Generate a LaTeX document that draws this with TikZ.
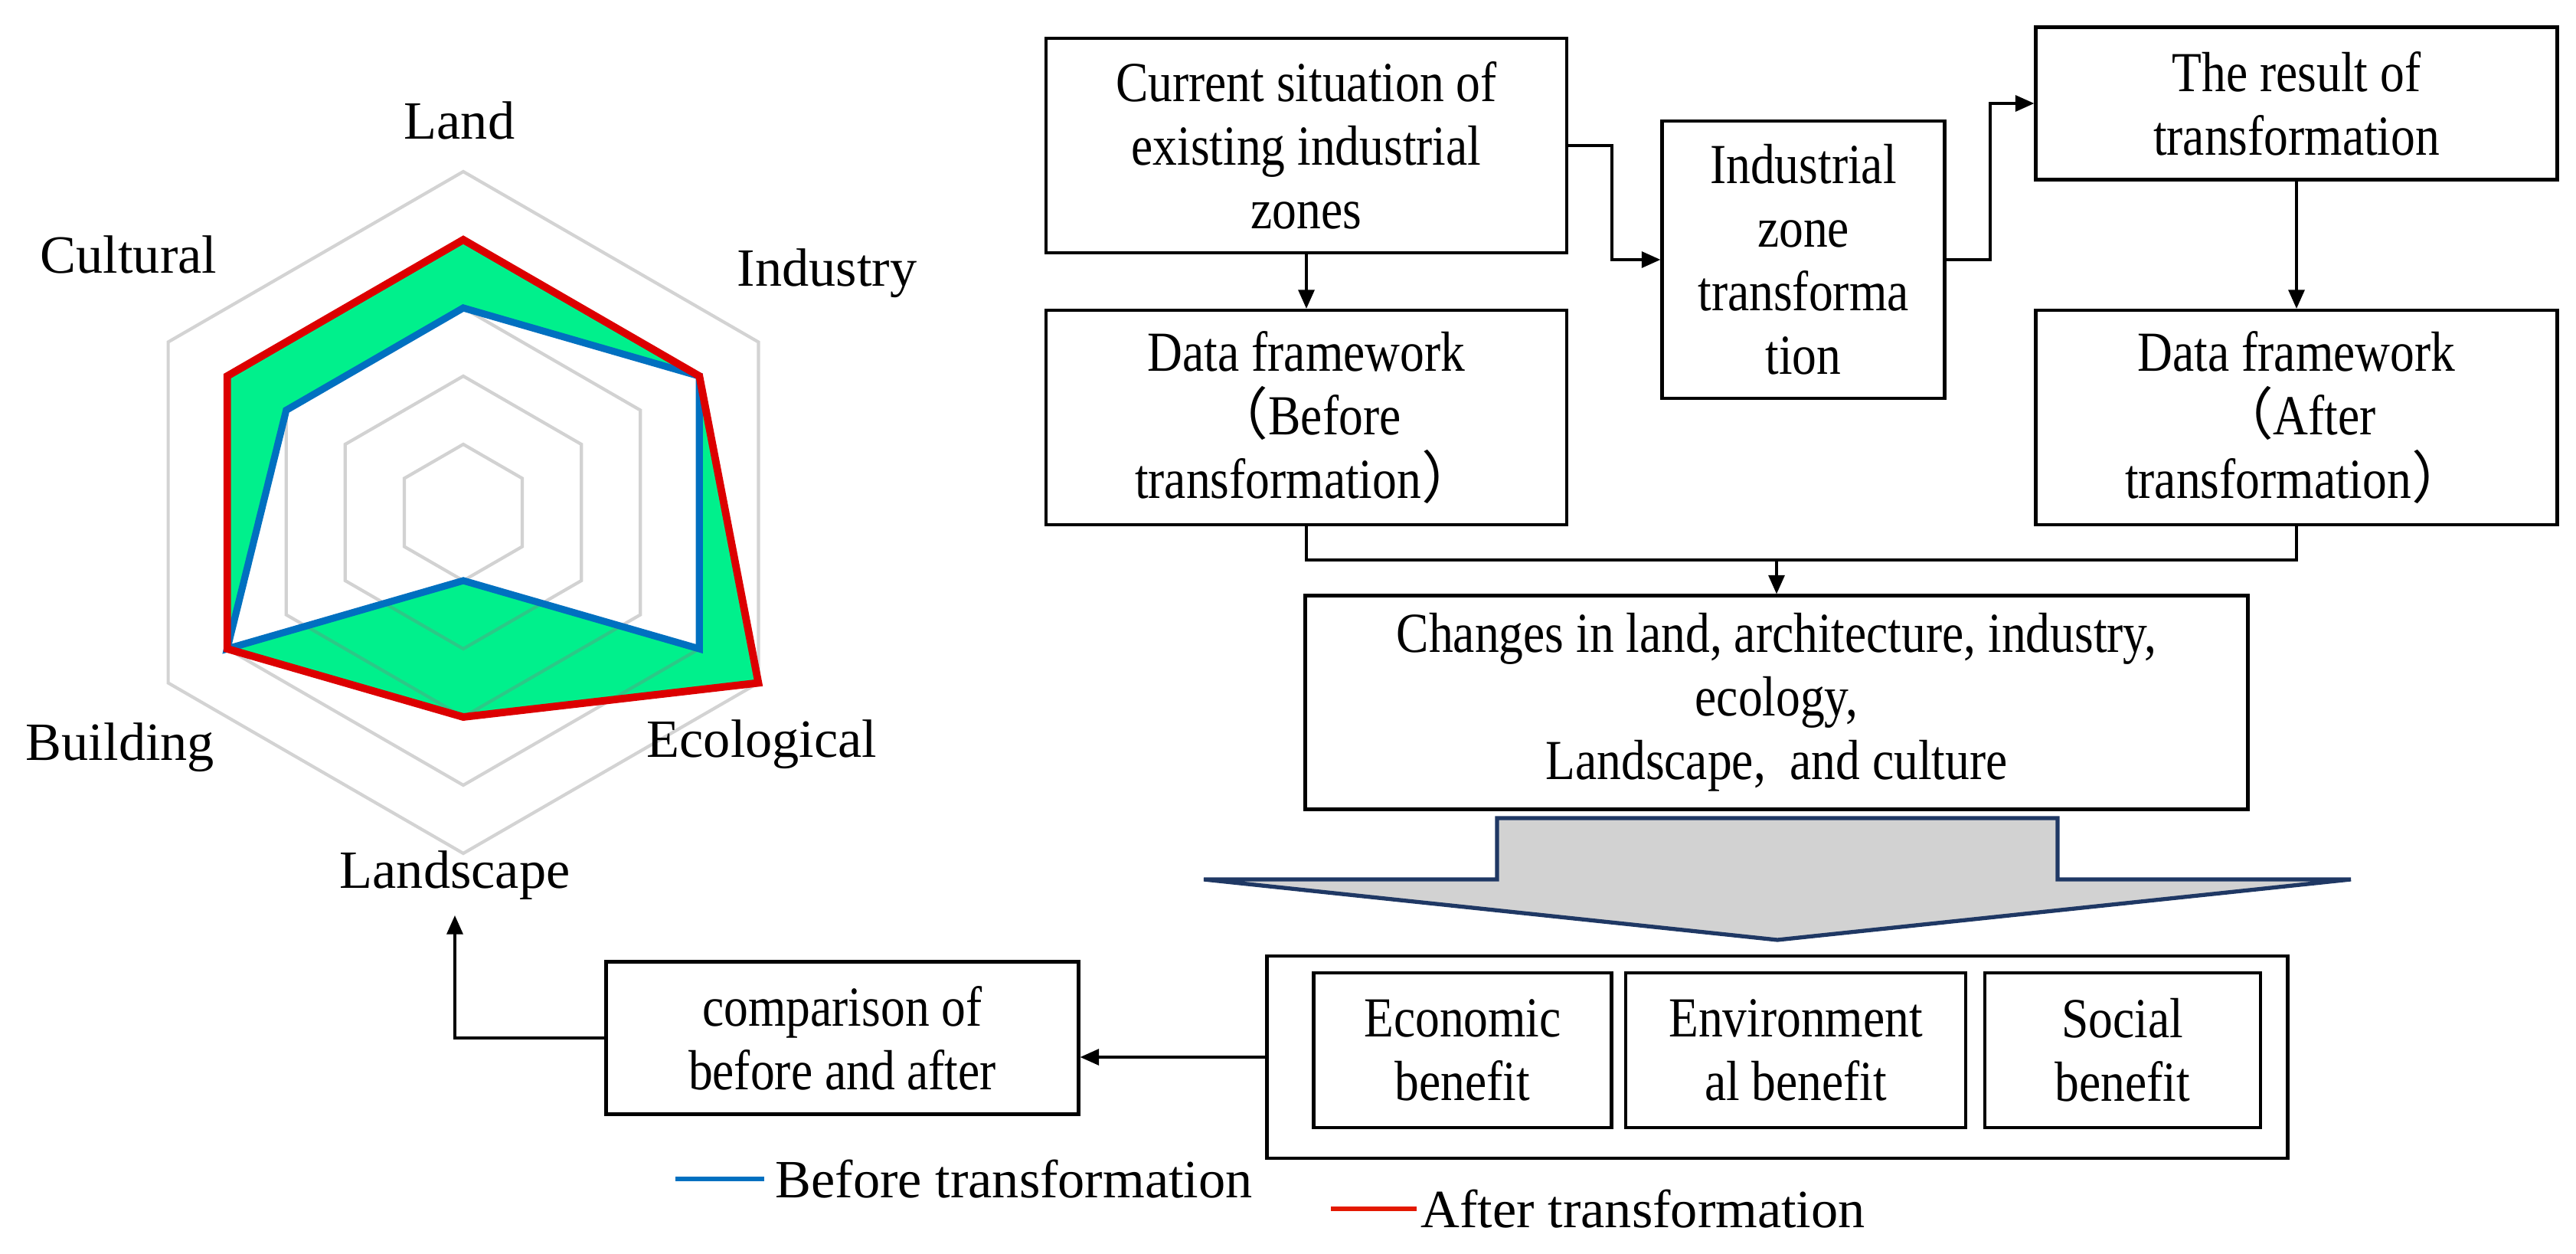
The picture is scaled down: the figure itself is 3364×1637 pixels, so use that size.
\documentclass[tikz,border=0pt]{standalone}
\usepackage{fontspec}
\setmainfont{Liberation Serif}
\newfontfamily\narrow[FakeStretch=0.86]{Liberation Serif}
\newfontfamily\cjk{Noto Sans CJK SC}
\usetikzlibrary{arrows.meta}
\definecolor{rgreen}{RGB}{0,240,140}
\definecolor{rred}{RGB}{220,0,0}
\definecolor{rblue}{RGB}{0,112,192}
\definecolor{navy}{RGB}{31,56,100}
\begin{document}
\begin{tikzpicture}[x=0.01cm,y=-0.01cm,
  box/.style={draw,line width=1.2pt,align=center,font=\narrow\fontsize{21}{23.6}\selectfont,inner sep=2pt},
  arr/.style={line width=0.9pt,-{Triangle[length=7pt,width=6pt]}},
  ln/.style={line width=0.9pt},
  lab/.style={font=\fontsize{20}{24}\selectfont}]
\useasboundingbox (0,0) rectangle (3364,1637);
\def\P#1#2{({605+89*#2*sin(60*#1)},{669-89*#2*cos(60*#1)})}
% radar
\fill[rgreen] \P04 -- \P14 -- \P25 -- \P33 -- \P44 -- \P54 -- cycle;
\fill[white] \P03 -- \P14 -- \P24 -- \P31 -- \P44 -- \P53 -- cycle;
\foreach \r in {1,...,5}{
  \draw[gray,opacity=0.35,line width=1.2pt] \P0\r -- \P1\r -- \P2\r -- \P3\r -- \P4\r -- \P5\r -- cycle;}
\draw[rblue,line width=2.6pt,line join=miter] \P03 -- \P14 -- \P24 -- \P31 -- \P44 -- \P53 -- cycle;
\draw[rred,line width=2.8pt,line join=miter] \P04 -- \P14 -- \P25 -- \P33 -- \P44 -- \P54 -- cycle;
\node[lab] (lland) at (600,157) {Land};
\node[lab] (lind) at (1080,357) {Industry};
\node[lab] (leco) at (995,972) {Ecological};
\node[lab] (llsc) at (594,1143) {Landscape};
\node[lab] (lbld) at (157,976) {Building};
\node[lab] (lcul) at (168,332) {Cultural};
% flowchart
\node[box,minimum width=680*0.01cm,minimum height=280*0.01cm] (A) at (1706,190) {Current situation of\\existing industrial\\zones};
\node[box,minimum width=680*0.01cm,minimum height=280*0.01cm] (B) at (1706,545) {Data framework\\{\cjk （}Before\\transformation{\cjk ）}};
\node[box,minimum width=369*0.01cm,minimum height=362*0.01cm] (C) at (2355,339) {Industrial\\zone\\transforma\\tion};
\node[box,minimum width=681*0.01cm,minimum height=199*0.01cm] (D) at (2999,135) {The result of\\transformation};
\node[box,minimum width=681*0.01cm,minimum height=280*0.01cm] (E) at (2999,545) {Data framework\\{\cjk （}After\\transformation{\cjk ）}};
\node[box,minimum width=1231*0.01cm,minimum height=279*0.01cm] (F) at (2320,917) {Changes in land, architecture, industry,\\ecology,\\Landscape,\ \ and culture};
\node[box,minimum width=1333*0.01cm,minimum height=264*0.01cm] (G) at (2321,1380) {};
\node[box,minimum width=389*0.01cm,minimum height=202*0.01cm] (G1) at (1910,1371) {Economic\\benefit};
\node[box,minimum width=444*0.01cm,minimum height=202*0.01cm] (G2) at (2345,1371) {Environment\\al benefit};
\node[box,minimum width=360*0.01cm,minimum height=202*0.01cm] (G3) at (2772,1371) {Social\\benefit};
\node[box,minimum width=617*0.01cm,minimum height=199*0.01cm] (H) at (1100,1355) {comparison of\\before and after};
\fill[gray!35,draw=navy,line width=1.5pt] (1955,1068) -- (2687,1068) -- (2687,1148) -- (3070,1148) -- (2321,1227) -- (1572,1148) -- (1955,1148) -- cycle;
\coordinate (ac) at (2105,190);
\coordinate (cd) at (2599,339);
\coordinate (mid) at (2320,731);
\coordinate (lsc) at (594,1195);
\draw[arr] (A.south) -- (B.north);
\draw[arr] (A.east) -- (ac) |- (C.west);
\draw[arr] (C.east) -- (cd) |- (D.west);
\draw[arr] (D.south) -- (E.north);
\draw[ln] (B.south) |- (mid) -| (E.south);
\draw[arr] (mid) -- (F.north);
\draw[arr] (G.west) -- (G.west -| H.east);
\draw[arr] (H.west) -| (lsc);
% legend
\coordinate (b1) at (882,1539); \coordinate (b2) at (998,1539);
\coordinate (r1) at (1738,1578); \coordinate (r2) at (1850,1578);
\draw[rblue,line width=1.6pt] (b1) -- (b2);
\draw[rred!80!orange,line width=1.6pt] (r1) -- (r2);
\node[lab,anchor=west,inner sep=0pt] (tb) at (1012,1539) {Before transformation};
\node[lab,anchor=west,inner sep=0pt] (tr) at (1855,1578) {After transformation};
\end{tikzpicture}
\end{document}
